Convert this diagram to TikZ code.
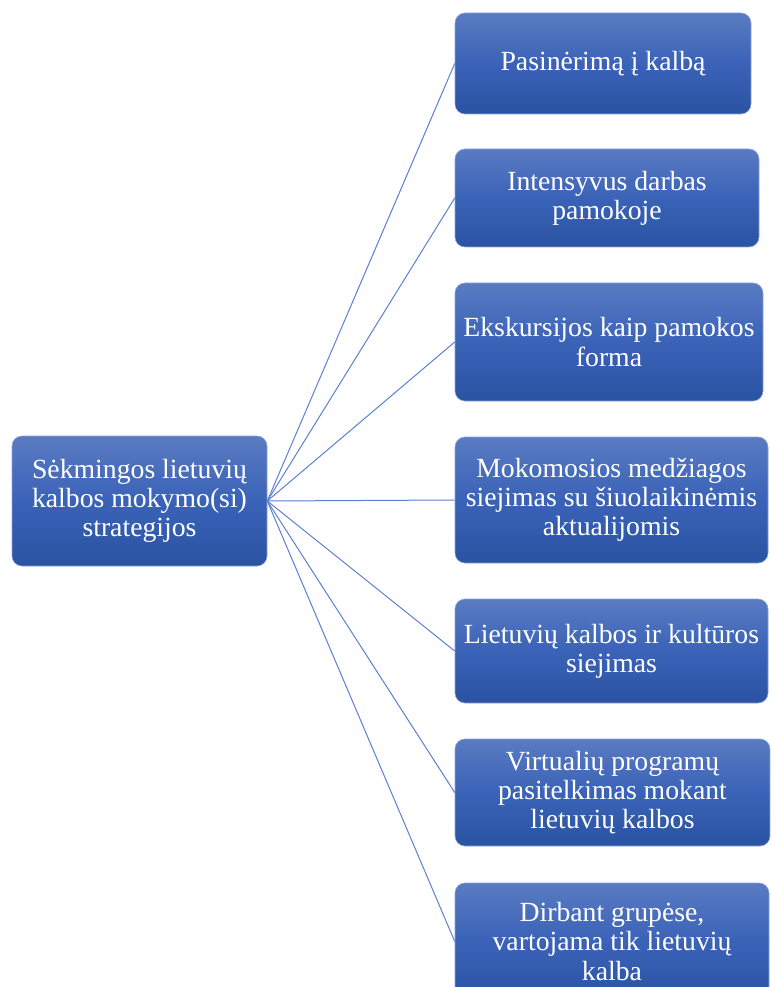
\documentclass[tikz,border=0pt]{standalone}
\usepackage{fontspec}
\setmainfont{Liberation Serif}
\definecolor{boxtop}{HTML}{5A7BC2}
\definecolor{boxmid}{HTML}{3A62B7}
\definecolor{boxbot}{HTML}{2B53A3}
\definecolor{boxedge}{HTML}{8CA4D6}
\definecolor{linkblue}{HTML}{5B80CF}
\begin{document}
\begin{tikzpicture}[x=0.75pt,y=-0.75pt,
  card/.style={rectangle, rounded corners=7.5pt, inner sep=0pt,
    top color=boxtop, bottom color=boxbot, middle color=boxmid,
    draw=boxedge, line width=0.4pt,
    text=white, align=center,
    font=\fontsize{20.8}{21.8}\selectfont},
  link/.style={draw=linkblue, line width=0.75pt}]
\useasboundingbox (0,0) rectangle (770,987);
\node[card, minimum width=255*0.75pt, minimum height=130*0.75pt] (root) at (139.5,501)
  {Sėkmingos lietuvių\\kalbos mokymo(si)\\strategijos};
\node[card, minimum width=296*0.75pt, minimum height=101*0.75pt] (b1) at (603,63.5)
  {Pasinėrimą į kalbą};
\node[card, minimum width=304*0.75pt, minimum height=98*0.75pt] (b2) at (607,198)
  {Intensyvus darbas\\pamokoje};
\node[card, minimum width=308*0.75pt, minimum height=118*0.75pt] (b3) at (609,342)
  {Ekskursijos kaip pamokos\\forma};
\node[card, minimum width=313*0.75pt, minimum height=126*0.75pt] (b4) at (611.5,500)
  {Mokomosios medžiagos\\siejimas su šiuolaikinėmis\\aktualijomis};
\node[card, minimum width=313*0.75pt, minimum height=104*0.75pt] (b5) at (611.5,651)
  {Lietuvių kalbos ir kultūros\\siejimas};
\node[card, minimum width=315*0.75pt, minimum height=107*0.75pt] (b6) at (612.5,792.5)
  {Virtualių programų\\pasitelkimas mokant\\lietuvių kalbos};
\node[card, minimum width=314*0.75pt, minimum height=117*0.75pt] (b7) at (612,941.5)
  {Dirbant grupėse,\\vartojama tik lietuvių\\kalba};
\foreach \b in {b1,b2,b3,b4,b5,b6,b7}
  \draw[link] (root.east) -- (\b.west);
\end{tikzpicture}
\end{document}
